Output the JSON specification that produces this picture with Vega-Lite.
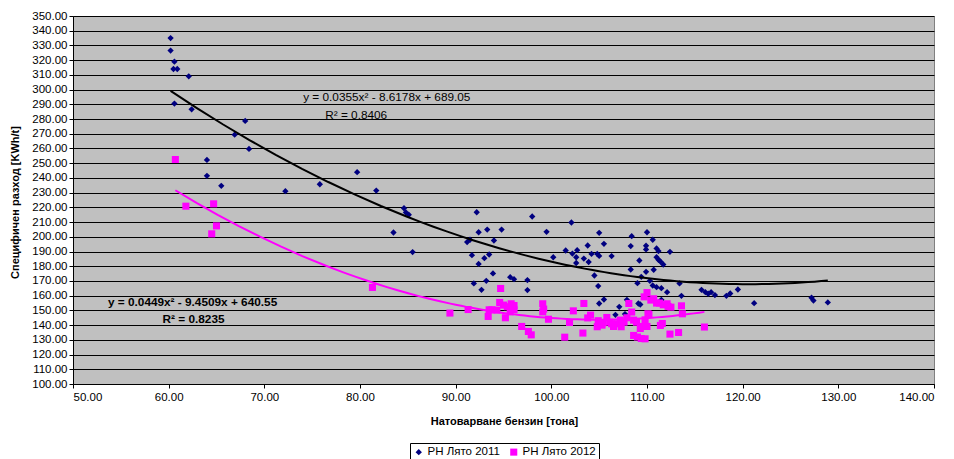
{
  "$schema": "https://vega.github.io/schema/vega-lite/v6.json",
  "width": 861,
  "height": 368,
  "autosize": {"type": "none"},
  "padding": {"left": 73, "top": 16, "right": 20, "bottom": 75},
  "background": "white",
  "config": {
    "view": {"fill": "#C0C0C0", "stroke": "#808080", "strokeWidth": 1},
    "font": "Liberation Sans"
  },
  "datasets": {
    "pts": [
      {"series": "РН Лято 2011", "x": 60.2, "y": 335},
      {"series": "РН Лято 2011", "x": 60.2, "y": 326.5},
      {"series": "РН Лято 2011", "x": 60.6, "y": 319},
      {"series": "РН Лято 2011", "x": 60.5, "y": 314},
      {"series": "РН Лято 2011", "x": 60.9, "y": 314},
      {"series": "РН Лято 2011", "x": 62.1, "y": 309},
      {"series": "РН Лято 2011", "x": 60.6, "y": 290.5},
      {"series": "РН Лято 2011", "x": 62.4, "y": 286.6},
      {"series": "РН Лято 2011", "x": 68.0, "y": 278.7},
      {"series": "РН Лято 2011", "x": 66.9, "y": 269.4},
      {"series": "РН Лято 2011", "x": 68.4, "y": 259.7},
      {"series": "РН Лято 2011", "x": 64.0, "y": 252.2},
      {"series": "РН Лято 2011", "x": 64.0, "y": 241.4},
      {"series": "РН Лято 2011", "x": 65.5, "y": 234.6},
      {"series": "РН Лято 2011", "x": 72.2, "y": 231},
      {"series": "РН Лято 2011", "x": 75.8, "y": 235.7},
      {"series": "РН Лято 2011", "x": 79.7, "y": 243.9},
      {"series": "РН Лято 2011", "x": 81.7, "y": 231.4},
      {"series": "РН Лято 2011", "x": 84.6, "y": 219.4},
      {"series": "РН Лято 2011", "x": 84.8, "y": 216.5},
      {"series": "РН Лято 2011", "x": 85.1, "y": 215},
      {"series": "РН Лято 2011", "x": 83.5, "y": 202.9},
      {"series": "РН Лято 2011", "x": 85.5, "y": 189.6},
      {"series": "РН Лято 2011", "x": 92.2, "y": 216.7},
      {"series": "РН Лято 2011", "x": 98.0, "y": 213.8},
      {"series": "РН Лято 2011", "x": 102.1, "y": 209.7},
      {"series": "РН Лято 2011", "x": 92.4, "y": 203.1},
      {"series": "РН Лято 2011", "x": 93.3, "y": 204.9},
      {"series": "РН Лято 2011", "x": 94.8, "y": 204.9},
      {"series": "РН Лято 2011", "x": 99.5, "y": 203.4},
      {"series": "РН Лято 2011", "x": 105.0, "y": 202.7},
      {"series": "РН Лято 2011", "x": 110.0, "y": 203.1},
      {"series": "РН Лято 2011", "x": 108.4, "y": 200.4},
      {"series": "РН Лято 2011", "x": 91.2, "y": 196.4},
      {"series": "РН Лято 2011", "x": 91.5, "y": 198},
      {"series": "РН Лято 2011", "x": 94.0, "y": 197.5},
      {"series": "РН Лято 2011", "x": 105.5, "y": 195.2},
      {"series": "РН Лято 2011", "x": 103.8, "y": 194.1},
      {"series": "РН Лято 2011", "x": 108.3, "y": 193.7},
      {"series": "РН Лято 2011", "x": 109.9, "y": 193.9},
      {"series": "РН Лято 2011", "x": 109.9, "y": 191.4},
      {"series": "РН Лято 2011", "x": 110.6, "y": 198},
      {"series": "РН Лято 2011", "x": 111.0, "y": 192.1},
      {"series": "РН Лято 2011", "x": 111.2, "y": 190.3},
      {"series": "РН Лято 2011", "x": 112.4, "y": 189.8},
      {"series": "РН Лято 2011", "x": 91.7, "y": 187.5},
      {"series": "РН Лято 2011", "x": 93.5, "y": 188},
      {"series": "РН Лято 2011", "x": 93.0, "y": 185.5},
      {"series": "РН Лято 2011", "x": 92.4, "y": 181.6},
      {"series": "РН Лято 2011", "x": 101.5, "y": 190.7},
      {"series": "РН Лято 2011", "x": 102.2, "y": 188.6},
      {"series": "РН Лято 2011", "x": 102.7, "y": 190.9},
      {"series": "РН Лято 2011", "x": 102.6, "y": 186.1},
      {"series": "РН Лято 2011", "x": 102.6, "y": 182.2},
      {"series": "РН Лято 2011", "x": 100.2, "y": 186.1},
      {"series": "РН Лято 2011", "x": 103.4, "y": 185.2},
      {"series": "РН Лято 2011", "x": 103.9, "y": 182.9},
      {"series": "РН Лято 2011", "x": 104.2, "y": 188.4},
      {"series": "РН Лято 2011", "x": 104.8, "y": 188.4},
      {"series": "РН Лято 2011", "x": 105.0, "y": 187},
      {"series": "РН Лято 2011", "x": 106.3, "y": 186.9},
      {"series": "РН Лято 2011", "x": 109.2, "y": 183.9},
      {"series": "РН Лято 2011", "x": 109.9, "y": 176.2},
      {"series": "РН Лято 2011", "x": 110.7, "y": 177.6},
      {"series": "РН Лято 2011", "x": 111.0, "y": 186.1},
      {"series": "РН Лято 2011", "x": 111.2, "y": 184.4},
      {"series": "РН Лято 2011", "x": 111.4, "y": 183.2},
      {"series": "РН Лято 2011", "x": 111.7, "y": 181.2},
      {"series": "РН Лято 2011", "x": 108.3, "y": 177.8},
      {"series": "РН Лято 2011", "x": 93.9, "y": 175.1},
      {"series": "РН Лято 2011", "x": 95.7, "y": 172.6},
      {"series": "РН Лято 2011", "x": 96.1, "y": 171.2},
      {"series": "РН Лято 2011", "x": 97.5, "y": 170.6},
      {"series": "РН Лято 2011", "x": 97.5, "y": 163.8},
      {"series": "РН Лято 2011", "x": 93.2, "y": 170.1},
      {"series": "РН Лято 2011", "x": 91.9, "y": 168.3},
      {"series": "РН Лято 2011", "x": 92.7, "y": 164},
      {"series": "РН Лято 2011", "x": 104.5, "y": 173.7},
      {"series": "РН Лято 2011", "x": 104.9, "y": 166.5},
      {"series": "РН Лято 2011", "x": 109.4, "y": 172.8},
      {"series": "РН Лято 2011", "x": 109.0, "y": 168.5},
      {"series": "РН Лято 2011", "x": 110.3, "y": 170.1},
      {"series": "РН Лято 2011", "x": 110.6, "y": 166.9},
      {"series": "РН Лято 2011", "x": 111.0, "y": 165.8},
      {"series": "РН Лято 2011", "x": 111.5, "y": 165.1},
      {"series": "РН Лято 2011", "x": 112.1, "y": 162.4},
      {"series": "РН Лято 2011", "x": 113.4, "y": 168.3},
      {"series": "РН Лято 2011", "x": 113.6, "y": 159.9},
      {"series": "РН Лято 2011", "x": 105.5, "y": 157.4},
      {"series": "РН Лято 2011", "x": 105.0, "y": 154.7},
      {"series": "РН Лято 2011", "x": 107.9, "y": 157.2},
      {"series": "РН Лято 2011", "x": 107.1, "y": 152.4},
      {"series": "РН Лято 2011", "x": 106.7, "y": 147},
      {"series": "РН Лято 2011", "x": 107.7, "y": 147.5},
      {"series": "РН Лято 2011", "x": 109.1, "y": 154.7},
      {"series": "РН Лято 2011", "x": 109.3, "y": 154.0},
      {"series": "РН Лято 2011", "x": 111.5, "y": 157.2},
      {"series": "РН Лято 2011", "x": 115.7, "y": 164},
      {"series": "РН Лято 2011", "x": 116.1, "y": 162.4},
      {"series": "РН Лято 2011", "x": 116.4, "y": 161.3},
      {"series": "РН Лято 2011", "x": 116.7, "y": 162.4},
      {"series": "РН Лято 2011", "x": 117.1, "y": 160.4},
      {"series": "РН Лято 2011", "x": 118.3, "y": 159.9},
      {"series": "РН Лято 2011", "x": 118.7, "y": 161.5},
      {"series": "РН Лято 2011", "x": 119.5, "y": 164.2},
      {"series": "РН Лято 2011", "x": 121.2, "y": 154.9},
      {"series": "РН Лято 2011", "x": 127.2, "y": 158.6},
      {"series": "РН Лято 2011", "x": 127.4, "y": 156.7},
      {"series": "РН Лято 2011", "x": 128.9, "y": 155.4},
      {"series": "РН Лято 2012", "x": 60.7, "y": 252.5},
      {"series": "РН Лято 2012", "x": 61.8, "y": 220.8},
      {"series": "РН Лято 2012", "x": 64.7, "y": 222.4},
      {"series": "РН Лято 2012", "x": 65.0, "y": 207.4},
      {"series": "РН Лято 2012", "x": 64.5, "y": 202},
      {"series": "РН Лято 2012", "x": 81.3, "y": 165.6},
      {"series": "РН Лято 2012", "x": 89.4, "y": 148.2},
      {"series": "РН Лято 2012", "x": 91.3, "y": 150.6},
      {"series": "РН Лято 2012", "x": 93.5, "y": 150.4},
      {"series": "РН Лято 2012", "x": 93.8, "y": 150.4},
      {"series": "РН Лято 2012", "x": 93.4, "y": 145.9},
      {"series": "РН Лято 2012", "x": 94.3, "y": 150.2},
      {"series": "РН Лято 2012", "x": 94.7, "y": 164.9},
      {"series": "РН Лято 2012", "x": 94.6, "y": 155.4},
      {"series": "РН Лято 2012", "x": 95.0, "y": 153.6},
      {"series": "РН Лято 2012", "x": 95.4, "y": 152.5},
      {"series": "РН Лято 2012", "x": 95.8, "y": 154.5},
      {"series": "РН Лято 2012", "x": 96.1, "y": 153.3},
      {"series": "РН Лято 2012", "x": 96.1, "y": 150.4},
      {"series": "РН Лято 2012", "x": 95.7, "y": 149},
      {"series": "РН Лято 2012", "x": 95.2, "y": 145},
      {"series": "РН Лято 2012", "x": 96.9, "y": 139.1},
      {"series": "РН Лято 2012", "x": 97.6, "y": 135.7},
      {"series": "РН Лято 2012", "x": 97.9, "y": 133.4},
      {"series": "РН Лято 2012", "x": 99.1, "y": 154.5},
      {"series": "РН Лято 2012", "x": 99.2, "y": 150.9},
      {"series": "РН Лято 2012", "x": 99.1, "y": 149},
      {"series": "РН Лято 2012", "x": 99.7, "y": 144},
      {"series": "РН Лято 2012", "x": 101.4, "y": 131.8},
      {"series": "РН Лято 2012", "x": 101.9, "y": 141.8},
      {"series": "РН Лято 2012", "x": 102.3, "y": 149.7},
      {"series": "РН Лято 2012", "x": 103.3, "y": 134.6},
      {"series": "РН Лято 2012", "x": 103.4, "y": 154.7},
      {"series": "РН Лято 2012", "x": 103.8, "y": 144.9},
      {"series": "РН Лято 2012", "x": 104.1, "y": 146.8},
      {"series": "РН Лято 2012", "x": 104.8, "y": 138.9},
      {"series": "РН Лято 2012", "x": 105.0, "y": 141},
      {"series": "РН Лято 2012", "x": 105.4, "y": 141.6},
      {"series": "РН Лято 2012", "x": 105.8, "y": 145.2},
      {"series": "РН Лято 2012", "x": 106.1, "y": 142},
      {"series": "РН Лято 2012", "x": 106.3, "y": 140.9},
      {"series": "РН Лято 2012", "x": 106.5, "y": 139.1},
      {"series": "РН Лято 2012", "x": 106.9, "y": 140.9},
      {"series": "РН Лято 2012", "x": 107.2, "y": 143.4},
      {"series": "РН Лято 2012", "x": 107.3, "y": 138.9},
      {"series": "РН Лято 2012", "x": 107.6, "y": 142},
      {"series": "РН Лято 2012", "x": 107.9, "y": 145},
      {"series": "РН Лято 2012", "x": 108.1, "y": 154.7},
      {"series": "РН Лято 2012", "x": 108.4, "y": 148.9},
      {"series": "РН Лято 2012", "x": 108.6, "y": 143.4},
      {"series": "РН Лято 2012", "x": 108.9, "y": 142},
      {"series": "РН Лято 2012", "x": 108.6, "y": 133},
      {"series": "РН Лято 2012", "x": 109.0, "y": 131.9},
      {"series": "РН Лято 2012", "x": 109.4, "y": 130.9},
      {"series": "РН Лято 2012", "x": 109.8, "y": 130.7},
      {"series": "РН Лято 2012", "x": 109.3, "y": 137.7},
      {"series": "РН Лято 2012", "x": 109.6, "y": 139.1},
      {"series": "РН Лято 2012", "x": 110.0, "y": 139.1},
      {"series": "РН Лято 2012", "x": 109.8, "y": 143.6},
      {"series": "РН Лято 2012", "x": 110.1, "y": 147.7},
      {"series": "РН Лято 2012", "x": 109.7, "y": 159.2},
      {"series": "РН Лято 2012", "x": 110.0, "y": 162.1},
      {"series": "РН Лято 2012", "x": 110.4, "y": 157},
      {"series": "РН Лято 2012", "x": 110.7, "y": 157.9},
      {"series": "РН Лято 2012", "x": 111.0, "y": 155},
      {"series": "РН Лято 2012", "x": 111.3, "y": 155},
      {"series": "РН Лято 2012", "x": 111.7, "y": 153.8},
      {"series": "РН Лято 2012", "x": 112.2, "y": 152.7},
      {"series": "РН Лято 2012", "x": 112.5, "y": 152.2},
      {"series": "РН Лято 2012", "x": 111.6, "y": 141.1},
      {"series": "РН Лято 2012", "x": 111.4, "y": 139.8},
      {"series": "РН Лято 2012", "x": 112.4, "y": 133.9},
      {"series": "РН Лято 2012", "x": 113.3, "y": 135},
      {"series": "РН Лято 2012", "x": 113.6, "y": 153.1},
      {"series": "РН Лято 2012", "x": 113.7, "y": 147.7},
      {"series": "РН Лято 2012", "x": 116.0, "y": 138.7},
      {"series": "РН Лято 2012", "x": 110.2, "y": 147.2},
      {"series": "РН Лято 2012", "x": 112.1, "y": 154.5},
      {"series": "РН Лято 2012", "x": 104.9, "y": 143},
      {"series": "РН Лято 2012", "x": 105.3, "y": 140}
    ],
    "notes": [
      {"note": "y = 0.0355x² - 8.6178x + 689.05", "x": 82.8, "y": 295, "weight": "normal"},
      {"note": "R² = 0.8406", "x": 79.6, "y": 282.8, "weight": "normal"},
      {"note": "y = 0.0449x² - 9.4509x + 640.55", "x": 62.5, "y": 155.8, "weight": "bold"},
      {"note": "R² = 0.8235", "x": 62.6, "y": 144.3, "weight": "bold"}
    ]
  },
  "encoding": {
    "x": {
      "field": "x", "type": "quantitative",
      "scale": {"domain": [50, 140], "nice": false, "zero": false},
      "axis": {
        "title": "Натоварване бензин [тона]",
        "values": [50, 60, 70, 80, 90, 100, 110, 120, 130, 140],
        "format": ".2f", "grid": false,
        "domainColor": "black", "tickColor": "black", "tickSize": 4,
        "labelColor": "black", "labelFontSize": 11.5, "labelFont": "Liberation Sans", "labelPadding": 3,
        "titleFont": "Liberation Sans", "titleFontSize": 11, "titleFontWeight": "bold", "titleColor": "black",
        "titleX": 431, "titleY": 37, "titleBaseline": "middle", "titleAnchor": "middle", "titleAlign": "center"
      }
    },
    "y": {
      "field": "y", "type": "quantitative",
      "scale": {"domain": [100, 350], "nice": false, "zero": false},
      "axis": {
        "title": "Специфичен разход [KWh/t]",
        "values": [100, 110, 120, 130, 140, 150, 160, 170, 180, 190, 200, 210, 220, 230, 240, 250, 260, 270, 280, 290, 300, 310, 320, 330, 340, 350],
        "format": ".2f", "grid": true, "gridColor": "black", "gridWidth": 1, "gridOpacity": 1,
        "domainColor": "black", "tickColor": "black", "tickSize": 4,
        "labelColor": "black", "labelFontSize": 11.5, "labelFont": "Liberation Sans", "labelPadding": 2,
        "titleFont": "Liberation Sans", "titleFontSize": 11, "titleFontWeight": "bold", "titleColor": "black",
        "titleX": -58, "titleY": 186, "titleAngle": -90, "titleBaseline": "middle", "titleAlign": "center"
      }
    }
  },
  "layer": [
    {
      "data": {"name": "pts"},
      "mark": {"type": "point", "filled": true, "opacity": 1},
      "encoding": {
        "color": {
          "field": "series", "type": "nominal",
          "scale": {"domain": ["РН Лято 2011", "РН Лято 2012"], "range": ["#000080", "#FF00FF"]},
          "legend": {
            "title": null, "orient": "none", "legendX": 337, "legendY": 427,
            "direction": "horizontal", "strokeColor": "black", "fillColor": "white",
            "padding": 3, "columnPadding": 8, "labelFontSize": 11.5, "labelFont": "Liberation Sans",
            "labelColor": "black", "symbolSize": 40, "labelOffset": 3
          }
        },
        "shape": {
          "field": "series", "type": "nominal",
          "scale": {"domain": ["РН Лято 2011", "РН Лято 2012"], "range": ["diamond", "square"]},
          "legend": {
            "title": null, "orient": "none", "legendX": 337, "legendY": 427,
            "direction": "horizontal", "strokeColor": "black", "fillColor": "white",
            "padding": 3, "columnPadding": 8, "labelFontSize": 11.5, "labelFont": "Liberation Sans",
            "labelColor": "black", "symbolSize": 40, "labelOffset": 3
          }
        },
        "size": {
          "field": "series", "type": "nominal",
          "scale": {"domain": ["РН Лято 2011", "РН Лято 2012"], "range": [40, 50]},
          "legend": null
        }
      }
    },
    {
      "data": {"name": "pts"},
      "transform": [
        {"filter": "datum.series === 'РН Лято 2011'"},
        {"regression": "y", "on": "x", "method": "poly", "order": 2, "extent": [60.2, 128.9]}
      ],
      "mark": {"type": "line", "color": "black", "strokeWidth": 2}
    },
    {
      "data": {"name": "pts"},
      "transform": [
        {"filter": "datum.series === 'РН Лято 2012'"},
        {"regression": "y", "on": "x", "method": "poly", "order": 2, "extent": [60.7, 116.0]}
      ],
      "mark": {"type": "line", "color": "#FF00FF", "strokeWidth": 2}
    },
    {
      "data": {"name": "notes"},
      "transform": [{"filter": "datum.weight === 'normal'"}],
      "mark": {"type": "text", "font": "Liberation Sans", "fontSize": 11.8, "color": "black", "align": "center", "baseline": "middle"},
      "encoding": {"text": {"field": "note", "type": "nominal"}}
    },
    {
      "data": {"name": "notes"},
      "transform": [{"filter": "datum.weight === 'bold'"}],
      "mark": {"type": "text", "font": "Liberation Sans", "fontSize": 11.8, "fontWeight": "bold", "color": "black", "align": "center", "baseline": "middle"},
      "encoding": {"text": {"field": "note", "type": "nominal"}}
    }
  ]
}
